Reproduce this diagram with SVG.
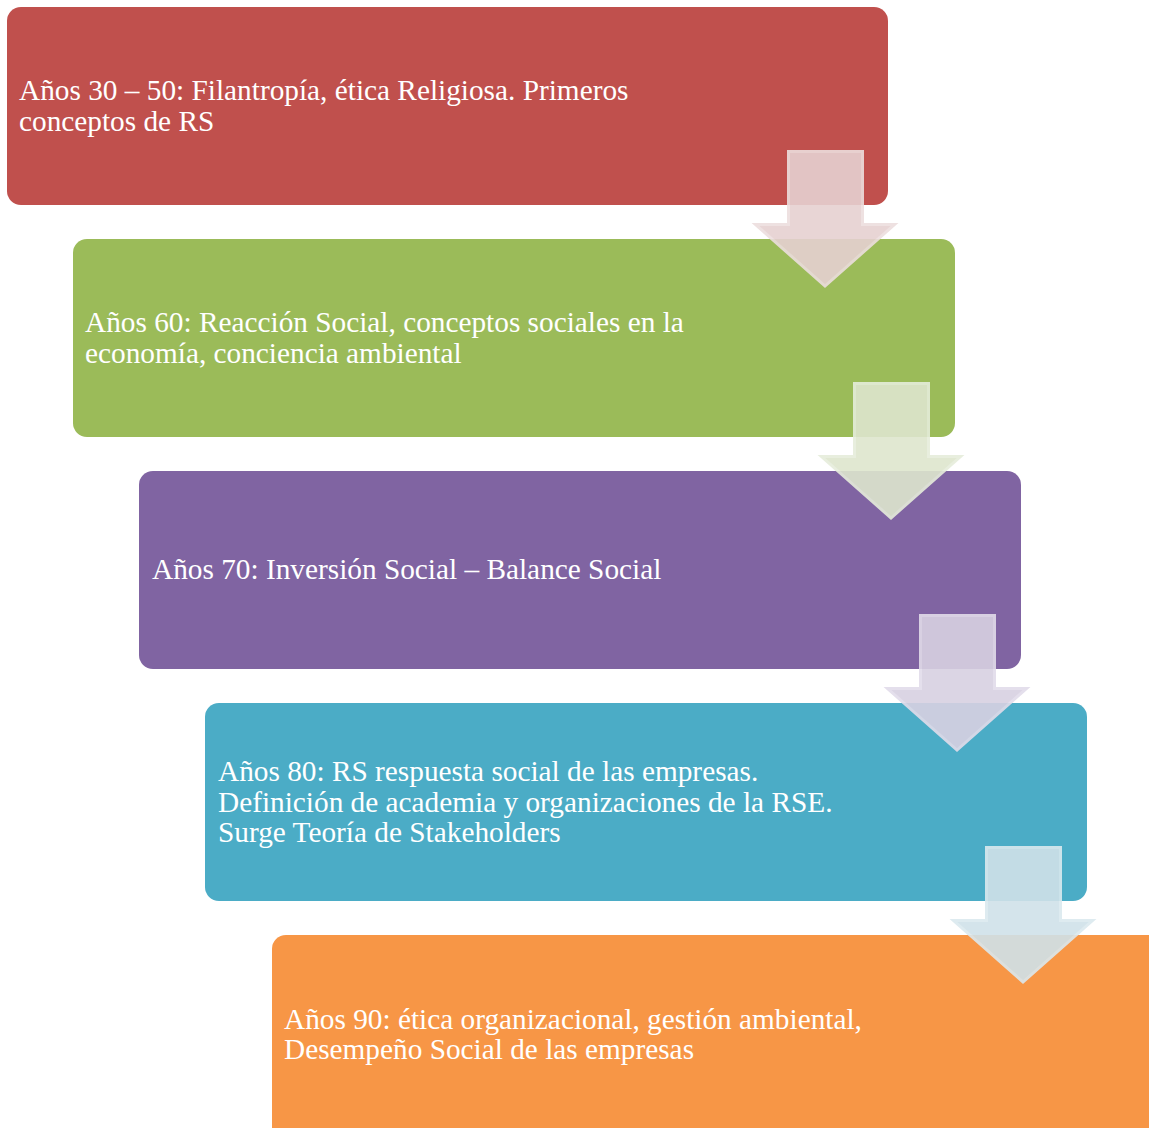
<svg xmlns="http://www.w3.org/2000/svg" width="1149" height="1128" viewBox="0 0 1149 1128">
<style>
.box{stroke:none}
.t{font-family:"Liberation Serif","Times New Roman",serif;font-size:29.3px;fill:#ffffff}
.arr{stroke-width:3;stroke-linejoin:miter;opacity:0.9}
</style>
<defs>
<polygon id="arrowShape" points="788.5,151.5 862.5,151.5 862.5,224.5 894.5,224.5 825,286 755.5,224.5 788.5,224.5"/>
</defs>
<rect width="1149" height="1128" fill="#ffffff"/>
<g id="node1"><rect class="box" x="7" y="7" width="881" height="198" rx="14" fill="#c0504d"/>
<text class="t" x="19" y="100">Años 30 – 50: Filantropía, ética Religiosa. Primeros</text>
<text class="t" x="19" y="131">conceptos de RS</text></g>
<g id="node2"><rect class="box" x="73" y="239" width="882" height="198" rx="14" fill="#9bbb59"/>
<text class="t" x="85" y="332">Años 60: Reacción Social, conceptos sociales en la</text>
<text class="t" x="85" y="363">economía, conciencia ambiental</text></g>
<g id="node3"><rect class="box" x="139" y="471" width="882" height="198" rx="14" fill="#8064a2"/>
<text class="t" x="152" y="579">Años 70: Inversión Social – Balance Social</text></g>
<g id="node4"><rect class="box" x="205" y="703" width="882" height="198" rx="14" fill="#4bacc6"/>
<text class="t" x="218" y="781">Años 80: RS respuesta social de las empresas.</text>
<text class="t" x="218" y="812">Definición de academia y organizaciones de la RSE.</text>
<text class="t" x="218" y="842">Surge Teoría de Stakeholders</text></g>
<g id="node5"><rect class="box" x="272" y="935" width="900" height="220" rx="14" fill="#f79646"/>
<text class="t" x="284" y="1029">Años 90: ética organizacional, gestión ambiental,</text>
<text class="t" x="284" y="1059">Desempeño Social de las empresas</text></g>
<g id="connectors">
<use href="#arrowShape" class="arr" fill="#e6d1d1" stroke="#eddede"/>
<use href="#arrowShape" class="arr" fill="#dee6ce" stroke="#e6eddb" transform="translate(66,232)"/>
<use href="#arrowShape" class="arr" fill="#d8d1e2" stroke="#e2dcea" transform="translate(132,464)"/>
<use href="#arrowShape" class="arr" fill="#d0e2e9" stroke="#dbe9ef" transform="translate(198,696)"/>
</g>
</svg>
